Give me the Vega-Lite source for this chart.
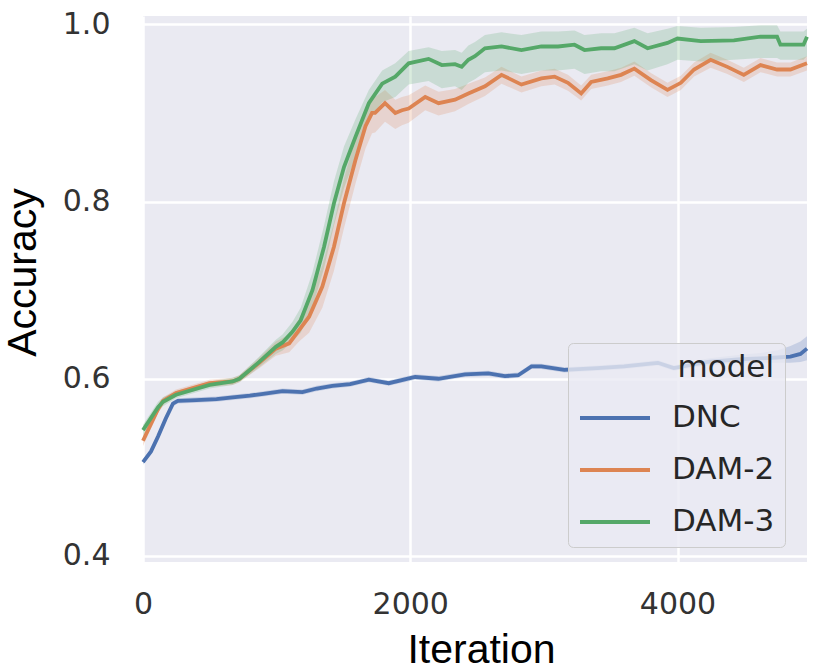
{
  "$schema": "https://vega.github.io/schema/vega-lite/v6.json",
  "width": 664,
  "height": 546,
  "autosize": {"type": "none"},
  "padding": {"left": 143, "top": 16, "right": 23, "bottom": 107},
  "background": "white",
  "data": {
    "values": [
      {"model": "DNC", "iteration": 0, "accuracy": 0.506, "lo": 0.503, "hi": 0.509},
      {"model": "DNC", "iteration": 60, "accuracy": 0.518, "lo": 0.515, "hi": 0.521},
      {"model": "DNC", "iteration": 113, "accuracy": 0.535, "lo": 0.532, "hi": 0.538},
      {"model": "DNC", "iteration": 170, "accuracy": 0.555, "lo": 0.552, "hi": 0.558},
      {"model": "DNC", "iteration": 224, "accuracy": 0.572, "lo": 0.569, "hi": 0.575},
      {"model": "DNC", "iteration": 261, "accuracy": 0.575, "lo": 0.572, "hi": 0.578},
      {"model": "DNC", "iteration": 400, "accuracy": 0.576, "lo": 0.573, "hi": 0.579},
      {"model": "DNC", "iteration": 550, "accuracy": 0.577, "lo": 0.574, "hi": 0.580},
      {"model": "DNC", "iteration": 671, "accuracy": 0.579, "lo": 0.576, "hi": 0.582},
      {"model": "DNC", "iteration": 800, "accuracy": 0.581, "lo": 0.578, "hi": 0.584},
      {"model": "DNC", "iteration": 900, "accuracy": 0.583, "lo": 0.580, "hi": 0.586},
      {"model": "DNC", "iteration": 1044, "accuracy": 0.586, "lo": 0.583, "hi": 0.589},
      {"model": "DNC", "iteration": 1193, "accuracy": 0.585, "lo": 0.582, "hi": 0.588},
      {"model": "DNC", "iteration": 1300, "accuracy": 0.589, "lo": 0.586, "hi": 0.592},
      {"model": "DNC", "iteration": 1417, "accuracy": 0.592, "lo": 0.589, "hi": 0.595},
      {"model": "DNC", "iteration": 1550, "accuracy": 0.594, "lo": 0.591, "hi": 0.597},
      {"model": "DNC", "iteration": 1690, "accuracy": 0.599, "lo": 0.596, "hi": 0.602},
      {"model": "DNC", "iteration": 1839, "accuracy": 0.595, "lo": 0.592, "hi": 0.598},
      {"model": "DNC", "iteration": 2037, "accuracy": 0.602, "lo": 0.599, "hi": 0.605},
      {"model": "DNC", "iteration": 2211, "accuracy": 0.600, "lo": 0.597, "hi": 0.603},
      {"model": "DNC", "iteration": 2410, "accuracy": 0.605, "lo": 0.602, "hi": 0.608},
      {"model": "DNC", "iteration": 2584, "accuracy": 0.606, "lo": 0.603, "hi": 0.609},
      {"model": "DNC", "iteration": 2708, "accuracy": 0.603, "lo": 0.600, "hi": 0.606},
      {"model": "DNC", "iteration": 2808, "accuracy": 0.604, "lo": 0.601, "hi": 0.607},
      {"model": "DNC", "iteration": 2907, "accuracy": 0.614, "lo": 0.611, "hi": 0.617},
      {"model": "DNC", "iteration": 2981, "accuracy": 0.614, "lo": 0.611, "hi": 0.617},
      {"model": "DNC", "iteration": 3153, "accuracy": 0.610, "lo": 0.607, "hi": 0.613},
      {"model": "DNC", "iteration": 3400, "accuracy": 0.612, "lo": 0.609, "hi": 0.615},
      {"model": "DNC", "iteration": 3600, "accuracy": 0.614, "lo": 0.611, "hi": 0.617},
      {"model": "DNC", "iteration": 3853, "accuracy": 0.618, "lo": 0.615, "hi": 0.621},
      {"model": "DNC", "iteration": 3972, "accuracy": 0.612, "lo": 0.609, "hi": 0.615},
      {"model": "DNC", "iteration": 4226, "accuracy": 0.619, "lo": 0.615, "hi": 0.623},
      {"model": "DNC", "iteration": 4472, "accuracy": 0.622, "lo": 0.618, "hi": 0.627},
      {"model": "DNC", "iteration": 4621, "accuracy": 0.623, "lo": 0.618, "hi": 0.629},
      {"model": "DNC", "iteration": 4745, "accuracy": 0.624, "lo": 0.618, "hi": 0.632},
      {"model": "DNC", "iteration": 4845, "accuracy": 0.625, "lo": 0.618, "hi": 0.637},
      {"model": "DNC", "iteration": 4920, "accuracy": 0.628, "lo": 0.619, "hi": 0.642},
      {"model": "DNC", "iteration": 4969, "accuracy": 0.634, "lo": 0.621, "hi": 0.648},

      {"model": "DAM-2", "iteration": 0, "accuracy": 0.530, "lo": 0.524, "hi": 0.536},
      {"model": "DAM-2", "iteration": 113, "accuracy": 0.566, "lo": 0.561, "hi": 0.571},
      {"model": "DAM-2", "iteration": 150, "accuracy": 0.575, "lo": 0.571, "hi": 0.579},
      {"model": "DAM-2", "iteration": 247, "accuracy": 0.584, "lo": 0.580, "hi": 0.588},
      {"model": "DAM-2", "iteration": 498, "accuracy": 0.595, "lo": 0.591, "hi": 0.599},
      {"model": "DAM-2", "iteration": 671, "accuracy": 0.597, "lo": 0.593, "hi": 0.601},
      {"model": "DAM-2", "iteration": 721, "accuracy": 0.600, "lo": 0.596, "hi": 0.604},
      {"model": "DAM-2", "iteration": 870, "accuracy": 0.618, "lo": 0.612, "hi": 0.624},
      {"model": "DAM-2", "iteration": 994, "accuracy": 0.634, "lo": 0.626, "hi": 0.642},
      {"model": "DAM-2", "iteration": 1094, "accuracy": 0.640, "lo": 0.630, "hi": 0.650},
      {"model": "DAM-2", "iteration": 1168, "accuracy": 0.655, "lo": 0.642, "hi": 0.668},
      {"model": "DAM-2", "iteration": 1243, "accuracy": 0.670, "lo": 0.652, "hi": 0.688},
      {"model": "DAM-2", "iteration": 1342, "accuracy": 0.704, "lo": 0.680, "hi": 0.728},
      {"model": "DAM-2", "iteration": 1429, "accuracy": 0.749, "lo": 0.722, "hi": 0.776},
      {"model": "DAM-2", "iteration": 1504, "accuracy": 0.798, "lo": 0.770, "hi": 0.826},
      {"model": "DAM-2", "iteration": 1590, "accuracy": 0.847, "lo": 0.820, "hi": 0.872},
      {"model": "DAM-2", "iteration": 1665, "accuracy": 0.885, "lo": 0.860, "hi": 0.905},
      {"model": "DAM-2", "iteration": 1714, "accuracy": 0.900, "lo": 0.877, "hi": 0.918},
      {"model": "DAM-2", "iteration": 1737, "accuracy": 0.900, "lo": 0.878, "hi": 0.918},
      {"model": "DAM-2", "iteration": 1811, "accuracy": 0.911, "lo": 0.890, "hi": 0.926},
      {"model": "DAM-2", "iteration": 1888, "accuracy": 0.900, "lo": 0.882, "hi": 0.915},
      {"model": "DAM-2", "iteration": 1938, "accuracy": 0.903, "lo": 0.886, "hi": 0.918},
      {"model": "DAM-2", "iteration": 1988, "accuracy": 0.905, "lo": 0.889, "hi": 0.920},
      {"model": "DAM-2", "iteration": 2112, "accuracy": 0.918, "lo": 0.903, "hi": 0.931},
      {"model": "DAM-2", "iteration": 2212, "accuracy": 0.911, "lo": 0.897, "hi": 0.924},
      {"model": "DAM-2", "iteration": 2335, "accuracy": 0.915, "lo": 0.902, "hi": 0.927},
      {"model": "DAM-2", "iteration": 2435, "accuracy": 0.922, "lo": 0.910, "hi": 0.933},
      {"model": "DAM-2", "iteration": 2559, "accuracy": 0.930, "lo": 0.919, "hi": 0.940},
      {"model": "DAM-2", "iteration": 2683, "accuracy": 0.943, "lo": 0.933, "hi": 0.952},
      {"model": "DAM-2", "iteration": 2832, "accuracy": 0.932, "lo": 0.923, "hi": 0.941},
      {"model": "DAM-2", "iteration": 2981, "accuracy": 0.939, "lo": 0.930, "hi": 0.948},
      {"model": "DAM-2", "iteration": 3080, "accuracy": 0.941, "lo": 0.932, "hi": 0.950},
      {"model": "DAM-2", "iteration": 3180, "accuracy": 0.934, "lo": 0.925, "hi": 0.943},
      {"model": "DAM-2", "iteration": 3279, "accuracy": 0.922, "lo": 0.914, "hi": 0.931},
      {"model": "DAM-2", "iteration": 3354, "accuracy": 0.935, "lo": 0.927, "hi": 0.943},
      {"model": "DAM-2", "iteration": 3478, "accuracy": 0.939, "lo": 0.931, "hi": 0.947},
      {"model": "DAM-2", "iteration": 3577, "accuracy": 0.943, "lo": 0.935, "hi": 0.951},
      {"model": "DAM-2", "iteration": 3677, "accuracy": 0.950, "lo": 0.942, "hi": 0.958},
      {"model": "DAM-2", "iteration": 3801, "accuracy": 0.937, "lo": 0.929, "hi": 0.945},
      {"model": "DAM-2", "iteration": 3925, "accuracy": 0.926, "lo": 0.918, "hi": 0.934},
      {"model": "DAM-2", "iteration": 4025, "accuracy": 0.934, "lo": 0.926, "hi": 0.942},
      {"model": "DAM-2", "iteration": 4124, "accuracy": 0.949, "lo": 0.941, "hi": 0.957},
      {"model": "DAM-2", "iteration": 4248, "accuracy": 0.960, "lo": 0.951, "hi": 0.968},
      {"model": "DAM-2", "iteration": 4373, "accuracy": 0.952, "lo": 0.944, "hi": 0.960},
      {"model": "DAM-2", "iteration": 4496, "accuracy": 0.943, "lo": 0.935, "hi": 0.951},
      {"model": "DAM-2", "iteration": 4621, "accuracy": 0.954, "lo": 0.946, "hi": 0.962},
      {"model": "DAM-2", "iteration": 4745, "accuracy": 0.949, "lo": 0.941, "hi": 0.957},
      {"model": "DAM-2", "iteration": 4845, "accuracy": 0.949, "lo": 0.941, "hi": 0.957},
      {"model": "DAM-2", "iteration": 4969, "accuracy": 0.956, "lo": 0.948, "hi": 0.964},

      {"model": "DAM-3", "iteration": 0, "accuracy": 0.542, "lo": 0.536, "hi": 0.548},
      {"model": "DAM-3", "iteration": 113, "accuracy": 0.568, "lo": 0.562, "hi": 0.574},
      {"model": "DAM-3", "iteration": 150, "accuracy": 0.574, "lo": 0.569, "hi": 0.579},
      {"model": "DAM-3", "iteration": 247, "accuracy": 0.582, "lo": 0.578, "hi": 0.586},
      {"model": "DAM-3", "iteration": 498, "accuracy": 0.593, "lo": 0.589, "hi": 0.597},
      {"model": "DAM-3", "iteration": 671, "accuracy": 0.597, "lo": 0.593, "hi": 0.601},
      {"model": "DAM-3", "iteration": 721, "accuracy": 0.600, "lo": 0.596, "hi": 0.604},
      {"model": "DAM-3", "iteration": 870, "accuracy": 0.619, "lo": 0.613, "hi": 0.625},
      {"model": "DAM-3", "iteration": 994, "accuracy": 0.636, "lo": 0.628, "hi": 0.644},
      {"model": "DAM-3", "iteration": 1044, "accuracy": 0.641, "lo": 0.632, "hi": 0.650},
      {"model": "DAM-3", "iteration": 1118, "accuracy": 0.653, "lo": 0.642, "hi": 0.664},
      {"model": "DAM-3", "iteration": 1180, "accuracy": 0.666, "lo": 0.652, "hi": 0.680},
      {"model": "DAM-3", "iteration": 1268, "accuracy": 0.700, "lo": 0.680, "hi": 0.720},
      {"model": "DAM-3", "iteration": 1355, "accuracy": 0.749, "lo": 0.725, "hi": 0.773},
      {"model": "DAM-3", "iteration": 1429, "accuracy": 0.798, "lo": 0.773, "hi": 0.823},
      {"model": "DAM-3", "iteration": 1504, "accuracy": 0.839, "lo": 0.815, "hi": 0.862},
      {"model": "DAM-3", "iteration": 1590, "accuracy": 0.873, "lo": 0.850, "hi": 0.893},
      {"model": "DAM-3", "iteration": 1690, "accuracy": 0.911, "lo": 0.892, "hi": 0.926},
      {"model": "DAM-3", "iteration": 1790, "accuracy": 0.933, "lo": 0.912, "hi": 0.948},
      {"model": "DAM-3", "iteration": 1888, "accuracy": 0.941, "lo": 0.918, "hi": 0.956},
      {"model": "DAM-3", "iteration": 1988, "accuracy": 0.956, "lo": 0.932, "hi": 0.970},
      {"model": "DAM-3", "iteration": 2137, "accuracy": 0.961, "lo": 0.936, "hi": 0.974},
      {"model": "DAM-3", "iteration": 2236, "accuracy": 0.954, "lo": 0.928, "hi": 0.970},
      {"model": "DAM-3", "iteration": 2335, "accuracy": 0.955, "lo": 0.930, "hi": 0.971},
      {"model": "DAM-3", "iteration": 2385, "accuracy": 0.952, "lo": 0.926, "hi": 0.968},
      {"model": "DAM-3", "iteration": 2435, "accuracy": 0.960, "lo": 0.934, "hi": 0.976},
      {"model": "DAM-3", "iteration": 2484, "accuracy": 0.964, "lo": 0.938, "hi": 0.980},
      {"model": "DAM-3", "iteration": 2559, "accuracy": 0.973, "lo": 0.946, "hi": 0.988},
      {"model": "DAM-3", "iteration": 2683, "accuracy": 0.975, "lo": 0.948, "hi": 0.991},
      {"model": "DAM-3", "iteration": 2832, "accuracy": 0.971, "lo": 0.944, "hi": 0.988},
      {"model": "DAM-3", "iteration": 2981, "accuracy": 0.975, "lo": 0.948, "hi": 0.992},
      {"model": "DAM-3", "iteration": 3106, "accuracy": 0.975, "lo": 0.948, "hi": 0.992},
      {"model": "DAM-3", "iteration": 3229, "accuracy": 0.977, "lo": 0.950, "hi": 0.993},
      {"model": "DAM-3", "iteration": 3304, "accuracy": 0.971, "lo": 0.944, "hi": 0.988},
      {"model": "DAM-3", "iteration": 3428, "accuracy": 0.973, "lo": 0.947, "hi": 0.990},
      {"model": "DAM-3", "iteration": 3528, "accuracy": 0.973, "lo": 0.947, "hi": 0.990},
      {"model": "DAM-3", "iteration": 3677, "accuracy": 0.981, "lo": 0.955, "hi": 0.996},
      {"model": "DAM-3", "iteration": 3776, "accuracy": 0.973, "lo": 0.948, "hi": 0.990},
      {"model": "DAM-3", "iteration": 3925, "accuracy": 0.979, "lo": 0.955, "hi": 0.995},
      {"model": "DAM-3", "iteration": 4000, "accuracy": 0.984, "lo": 0.960, "hi": 0.998},
      {"model": "DAM-3", "iteration": 4174, "accuracy": 0.981, "lo": 0.958, "hi": 0.996},
      {"model": "DAM-3", "iteration": 4422, "accuracy": 0.982, "lo": 0.960, "hi": 0.997},
      {"model": "DAM-3", "iteration": 4621, "accuracy": 0.986, "lo": 0.962, "hi": 0.999},
      {"model": "DAM-3", "iteration": 4745, "accuracy": 0.986, "lo": 0.962, "hi": 0.999},
      {"model": "DAM-3", "iteration": 4770, "accuracy": 0.977, "lo": 0.960, "hi": 0.992},
      {"model": "DAM-3", "iteration": 4943, "accuracy": 0.977, "lo": 0.960, "hi": 0.992},
      {"model": "DAM-3", "iteration": 4969, "accuracy": 0.986, "lo": 0.964, "hi": 0.995}
    ]
  },
  "encoding": {
    "x": {
      "field": "iteration",
      "type": "quantitative",
      "scale": {"domain": [0, 4969], "nice": false, "zero": false},
      "axis": {"values": [0, 2000, 4000], "format": "d", "title": "Iteration"}
    },
    "y": {
      "field": "accuracy",
      "type": "quantitative",
      "title": "Accuracy",
      "scale": {"domain": [0.3932, 1.0094], "nice": false, "zero": false},
      "axis": {"values": [0.4, 0.6, 0.8, 1.0], "format": ".1f"}
    },
    "color": {
      "field": "model",
      "type": "nominal",
      "scale": {"domain": ["DNC", "DAM-2", "DAM-3"], "range": ["#4C72B0", "#DD8452", "#55A868"]},
      "legend": {
        "title": "model",
        "orient": "none",
        "legendX": 425,
        "legendY": 327,
        "padding": 10,
        "fillColor": "rgba(234,234,242,0.8)",
        "strokeColor": "#cccccc",
        "cornerRadius": 5,
        "symbolType": "stroke",
        "symbolSize": 4900,
        "symbolStrokeWidth": 4,
        "symbolOpacity": 1,
        "labelOffset": 20,
        "labelFont": "DejaVu Sans",
        "labelFontSize": 31,
        "labelColor": "#262626",
        "titleFont": "DejaVu Sans",
        "titleFontSize": 31,
        "titleFontWeight": "normal",
        "titleColor": "#262626",
        "titleAnchor": "end",
        "titlePadding": -3,
        "rowPadding": -2
      }
    }
  },
  "layer": [
    {
      "mark": {"type": "area", "opacity": 0.22},
      "encoding": {
        "y": {
          "field": "lo",
          "type": "quantitative",
          "title": "Accuracy",
          "scale": {"domain": [0.3932, 1.0094], "nice": false, "zero": false},
          "axis": {"values": [0.4, 0.6, 0.8, 1.0], "format": ".1f"}
        },
        "y2": {"field": "hi"}
      }
    },
    {
      "mark": {"type": "line", "strokeWidth": 3.8}
    }
  ],
  "config": {
    "view": {"fill": "#EAEAF2", "stroke": null},
    "axis": {
      "grid": true,
      "gridColor": "#ffffff",
      "gridWidth": 2.5,
      "domain": false,
      "ticks": false,
      "labelFont": "DejaVu Sans",
      "labelFontSize": 30,
      "labelColor": "#333333",
      "labelFlush": false,
      "titleFont": "Liberation Sans",
      "titleFontSize": 41,
      "titleFontWeight": "normal",
      "titleColor": "#000000"
    },
    "axisX": {"labelPadding": 27, "titlePadding": 11, "titleX": 338},
    "axisY": {"labelPadding": 33, "titlePadding": 18, "titleY": 256}
  }
}
